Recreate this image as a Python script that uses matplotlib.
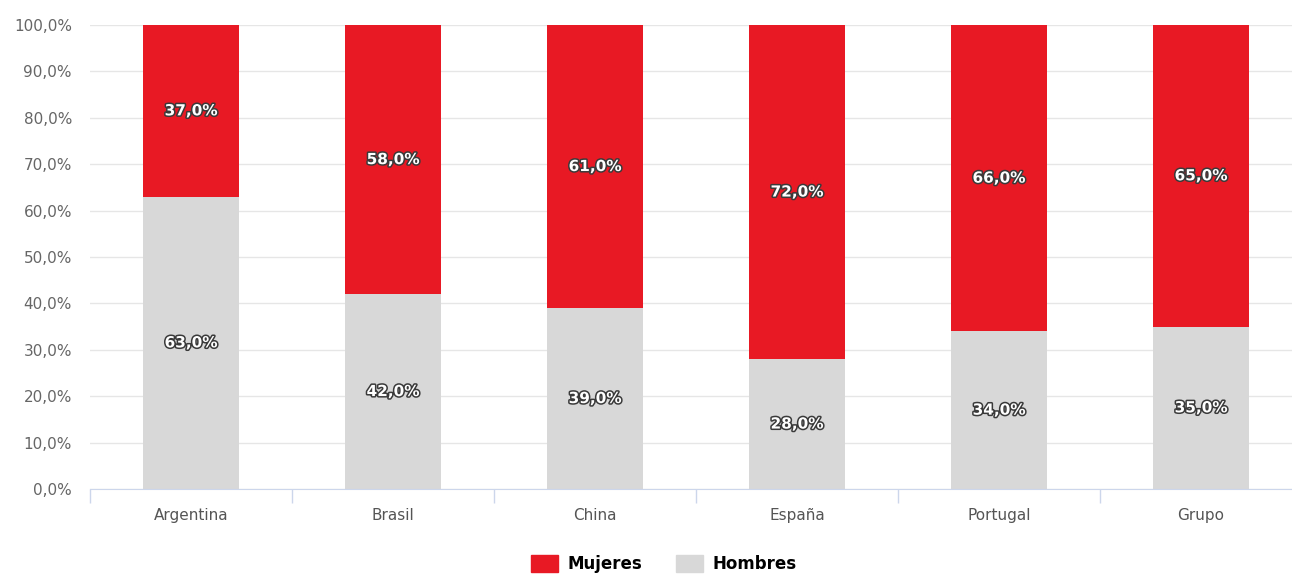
import numpy as np
import matplotlib
matplotlib.use("Agg")
import matplotlib.pyplot as plt
import matplotlib.patheffects as pe
from matplotlib.ticker import FuncFormatter, FixedLocator

# Data
paises = ["Argentina", "Brasil", "China", "España", "Portugal", "Grupo"]
hombres = [63.0, 42.0, 39.0, 28.0, 34.0, 35.0]
mujeres = [37.0, 58.0, 61.0, 72.0, 66.0, 65.0]

c_muj = "#e81924"
c_hom = "#d8d8d8"

fig = plt.figure(figsize=(12.92, 5.74), dpi=100)
# plot area runs a little past the right edge (as in the reference crop)
ax = fig.add_axes([90/1292, 1-489/574, 1212/1292, 464/574])

x = np.arange(len(paises))
w = 0.48
ax.bar(x, hombres, w, color=c_hom, zorder=2)
ax.bar(x, mujeres, w, bottom=hombres, color=c_muj, zorder=2)

effects = [pe.withStroke(linewidth=2.2, foreground="#3a3a3a")]
for i in range(len(paises)):
    ax.text(x[i], hombres[i] / 2, f"{hombres[i]:.1f}%".replace(".", ","),
            ha="center", va="center", color="white", fontsize=11, fontweight="bold",
            path_effects=effects, zorder=3)
    ax.text(x[i], hombres[i] + mujeres[i] / 2, f"{mujeres[i]:.1f}%".replace(".", ","),
            ha="center", va="center", color="white", fontsize=11, fontweight="bold",
            path_effects=effects, zorder=3)

ax.set_xlim(-0.5, len(paises) - 0.5)
ax.set_ylim(0, 100)
ax.set_yticks(np.arange(0, 101, 10))
ax.yaxis.set_major_formatter(FuncFormatter(lambda v, p: f"{v:.1f}%".replace(".", ",")))
ax.grid(axis="y", color="#e6e6e6", linewidth=1, zorder=0)

ax.set_xticks(x)
ax.set_xticklabels(paises)
ax.xaxis.set_minor_locator(FixedLocator(np.arange(-0.5, len(paises), 1.0)))
ax.tick_params(axis="x", which="major", length=0, pad=14, labelsize=11, labelcolor="#555555")
ax.tick_params(axis="x", which="minor", length=10, color="#ccd6eb", width=1)
ax.tick_params(axis="y", length=0, pad=13, labelsize=11, labelcolor="#666666")

for s in ["top", "right", "left"]:
    ax.spines[s].set_visible(False)
ax.spines["bottom"].set_color("#ccd6eb")

handles = [plt.Rectangle((0, 0), 1, 1, color=c_muj), plt.Rectangle((0, 0), 1, 1, color=c_hom)]
fig.legend(handles, ["Mujeres", "Hombres"], loc="center", bbox_to_anchor=(664/1292, 1 - 564/574),
           ncol=2, frameon=False, prop={"weight": "bold", "size": 12},
           handlelength=1.6, handleheight=1.2, columnspacing=2.0, handletextpad=0.6)

fig.savefig("out.png", dpi=100)
